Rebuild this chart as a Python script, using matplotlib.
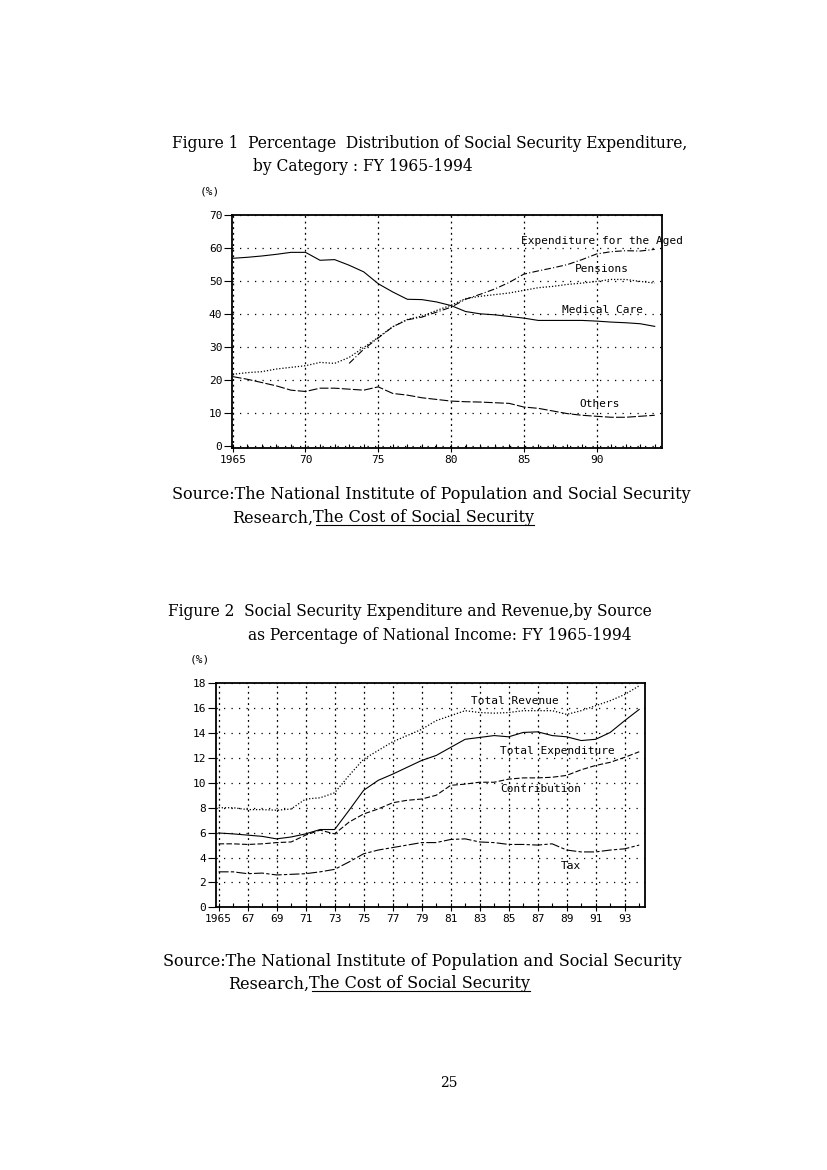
import numpy as np
import matplotlib
matplotlib.use("Agg")
import matplotlib.pyplot as plt
from matplotlib.lines import Line2D
from matplotlib.ticker import MultipleLocator

# ---- Figure 1 data: percentage distribution by category, FY1965-1994
years = list(range(1965, 1995))
medical = [56.9, 57.2, 57.6, 58.1, 58.7, 58.7, 56.3, 56.5, 54.8, 52.8,
           49.2, 46.7, 44.5, 44.4, 43.7, 42.6, 40.8, 40.1, 39.8, 39.3,
           38.8, 38.1, 38.1, 38.1, 38.1, 37.9, 37.6, 37.4, 37.1, 36.3]
pensions = [21.8, 22.3, 22.6, 23.4, 23.9, 24.4, 25.4, 25.1, 26.9, 29.9,
            33.0, 36.2, 38.4, 39.4, 41.1, 42.7, 44.7, 45.4, 45.9, 46.4,
            47.2, 48.0, 48.4, 49.0, 49.4, 49.9, 50.5, 50.5, 49.9, 49.4]
aged_years = list(range(1973, 1995))
aged = [25.1, 29.4, 32.8, 36.2, 38.3, 39.1, 40.6, 42.1, 44.5, 46.0, 47.6,
        49.6, 52.1, 53.1, 54.0, 55.0, 56.5, 58.2, 58.9, 59.2, 59.1, 59.6]
others = [21.1, 20.3, 19.3, 18.3, 17.0, 16.6, 17.6, 17.6, 17.3, 17.0,
          18.0, 16.0, 15.5, 14.7, 14.2, 13.7, 13.5, 13.4, 13.2, 13.0,
          11.9, 11.5, 10.7, 9.9, 9.4, 9.1, 8.8, 8.8, 9.1, 9.4]

# ---- Figure 2 data: % of national income
revenue = [8.0, 8.0, 7.85, 7.85, 7.8, 7.9, 8.7, 8.8, 9.2, 10.6,
           11.9, 12.6, 13.3, 13.8, 14.3, 15.0, 15.4, 15.8, 15.65, 15.6,
           15.65, 15.8, 15.8, 15.8, 15.5, 15.8, 16.2, 16.6, 17.1, 17.8]
expenditure = [5.97, 5.9, 5.8, 5.7, 5.5, 5.65, 5.9, 6.25, 6.25, 7.8,
               9.4, 10.2, 10.7, 11.25, 11.8, 12.2, 12.85, 13.5, 13.65, 13.8,
               13.7, 14.05, 14.1, 13.8, 13.7, 13.4, 13.5, 14.05, 15.0, 15.9]
contribution = [5.1, 5.1, 5.05, 5.1, 5.2, 5.25, 5.8, 6.2, 5.9, 6.85,
                7.5, 7.9, 8.4, 8.6, 8.7, 9.0, 9.8, 9.9, 10.05, 10.05,
                10.3, 10.4, 10.4, 10.45, 10.6, 11.05, 11.4, 11.65, 12.05, 12.5]
tax = [2.85, 2.85, 2.7, 2.75, 2.6, 2.65, 2.7, 2.85, 3.05, 3.65,
       4.3, 4.6, 4.8, 5.0, 5.2, 5.2, 5.45, 5.5, 5.25, 5.2,
       5.05, 5.05, 5.0, 5.1, 4.6, 4.45, 4.45, 4.6, 4.7, 5.0]

fig1_yticks = [0, 10, 20, 30, 40, 50, 60, 70]
fig1_xticks = [1965, 1970, 1975, 1980, 1985, 1990]
fig1_xlabels = ["1965", "70", "75", "80", "85", "90"]
fig2_yticks = list(range(0, 19, 2))
fig2_xticks = list(range(1965, 1994, 2))
fig2_xlabels = ["1965"] + [str(y)[2:] for y in fig2_xticks[1:]]

W, H = 827, 1170
mono = "DejaVu Sans Mono"
serif = "DejaVu Serif"
TITLE_FS = 11.2
SRC_FS = 11.5

fig = plt.figure(figsize=(8.27, 11.70), dpi=100)


def px(x, y):
    return x / W, 1 - y / H


def style_axes(ax, xticks, xlabels, yticks):
    ax.set_xticks(xticks)
    ax.set_xticklabels(xlabels, fontfamily=mono, fontsize=8)
    ax.set_yticks(yticks)
    ax.set_yticklabels([str(v) for v in yticks], fontfamily=mono, fontsize=8)
    ax.xaxis.set_minor_locator(MultipleLocator(1))
    ax.tick_params(axis="y", direction="out", length=6, width=0.8, pad=1)
    ax.tick_params(axis="x", which="major", direction="inout", length=6, width=0.8, pad=2)
    ax.tick_params(axis="x", which="minor", direction="in", length=3, width=0.8)
    for s in ax.spines.values():
        s.set_linewidth(1.3)
    ax.grid(True, axis="y", color="black", linestyle=(0, (1, 5)), linewidth=0.9)
    ax.grid(True, axis="x", color="black", linestyle=(0, (1.5, 3)), linewidth=0.9)
    ax.set_axisbelow(True)


# ================= Figure 1 =================
fig.text(*px(172, 143), "Figure 1  Percentage  Distribution of Social Security Expenditure,",
         family=serif, fontsize=TITLE_FS, va="center")
fig.text(*px(253, 167), "by Category : FY 1965-1994", family=serif, fontsize=TITLE_FS, va="center")
fig.text(*px(200, 192), "(%)", family=mono, fontsize=8, va="center")

ax1 = fig.add_axes([232 / W, 1 - 448 / H, 430 / W, 233 / H])
ax1.plot(years, medical, color="black", lw=0.8, ls="-")
ax1.plot(years, pensions, color="black", lw=0.9, ls=(0, (1, 1.5)))
ax1.plot(aged_years, aged, color="black", lw=0.8, ls=(0, (6, 2, 1, 2)))
ax1.plot(years, others, color="black", lw=0.8, ls=(0, (8, 2)))
ax1.set_xlim(1964.95, 1994.5)
ax1.set_ylim(-0.5, 70)
style_axes(ax1, fig1_xticks, fig1_xlabels, fig1_yticks)

lab = dict(family=mono, fontsize=8, va="center", clip_on=False)
ax1.text(1984.8, 62.0, "Expenditure for the Aged", **lab)
ax1.text(1988.5, 53.8, "Pensions", **lab)
ax1.text(1987.6, 41.4, "Medical Care", **lab)
ax1.text(1988.8, 12.7, "Others", **lab)

# ================= Figure 2 =================
fig.text(*px(168, 612), "Figure 2  Social Security Expenditure and Revenue,by Source",
         family=serif, fontsize=TITLE_FS, va="center")
fig.text(*px(248, 636), "as Percentage of National Income: FY 1965-1994",
         family=serif, fontsize=TITLE_FS, va="center")
fig.text(*px(190, 660), "(%)", family=mono, fontsize=8, va="center")

ax2 = fig.add_axes([215.7 / W, 1 - 907.3 / H, 429.3 / W, 224 / H])
ax2.plot(years, revenue, color="black", lw=0.9, ls=(0, (1, 1.5)))
ax2.plot(years, expenditure, color="black", lw=0.8, ls="-")
ax2.plot(years, contribution, color="black", lw=0.8, ls=(0, (5, 2)))
ax2.plot(years, tax, color="black", lw=0.8, ls=(0, (9, 2, 3, 2)))
ax2.set_xlim(1964.8, 1994.4)
ax2.set_ylim(0, 18)
style_axes(ax2, fig2_xticks, fig2_xlabels, fig2_yticks)

ax2.text(1982.4, 16.6, "Total Revenue", **lab)
ax2.text(1984.4, 12.6, "Total Expenditure", **lab)
ax2.text(1984.4, 9.5, "Contribution", **lab)
ax2.text(1988.6, 3.3, "Tax", **lab)


# ================= Sources =================
def source(x1, y1, x2, y2):
    fig.text(*px(x1, y1), "Source:The National Institute of Population and Social Security",
             family=serif, fontsize=SRC_FS, va="center")
    t1 = fig.text(*px(x2, y2), "Research,", family=serif, fontsize=SRC_FS, va="center")
    fig.canvas.draw()
    bb = t1.get_window_extent().transformed(fig.transFigure.inverted())
    t2 = fig.text(bb.x1, px(x2, y2)[1], "The Cost of Social Security",
                  family=serif, fontsize=SRC_FS, va="center")
    fig.canvas.draw()
    b2 = t2.get_window_extent().transformed(fig.transFigure.inverted())
    fig.add_artist(Line2D([b2.x0 + 0.003, b2.x1], [b2.y0 + 0.001, b2.y0 + 0.001],
                          transform=fig.transFigure, color="black", lw=0.8))


source(172, 494, 232, 518)
source(163, 961, 228, 984)

fig.text(*px(449, 1083), "25", family=serif, fontsize=10, ha="center", va="center")

fig.savefig("out.png", dpi=100)
